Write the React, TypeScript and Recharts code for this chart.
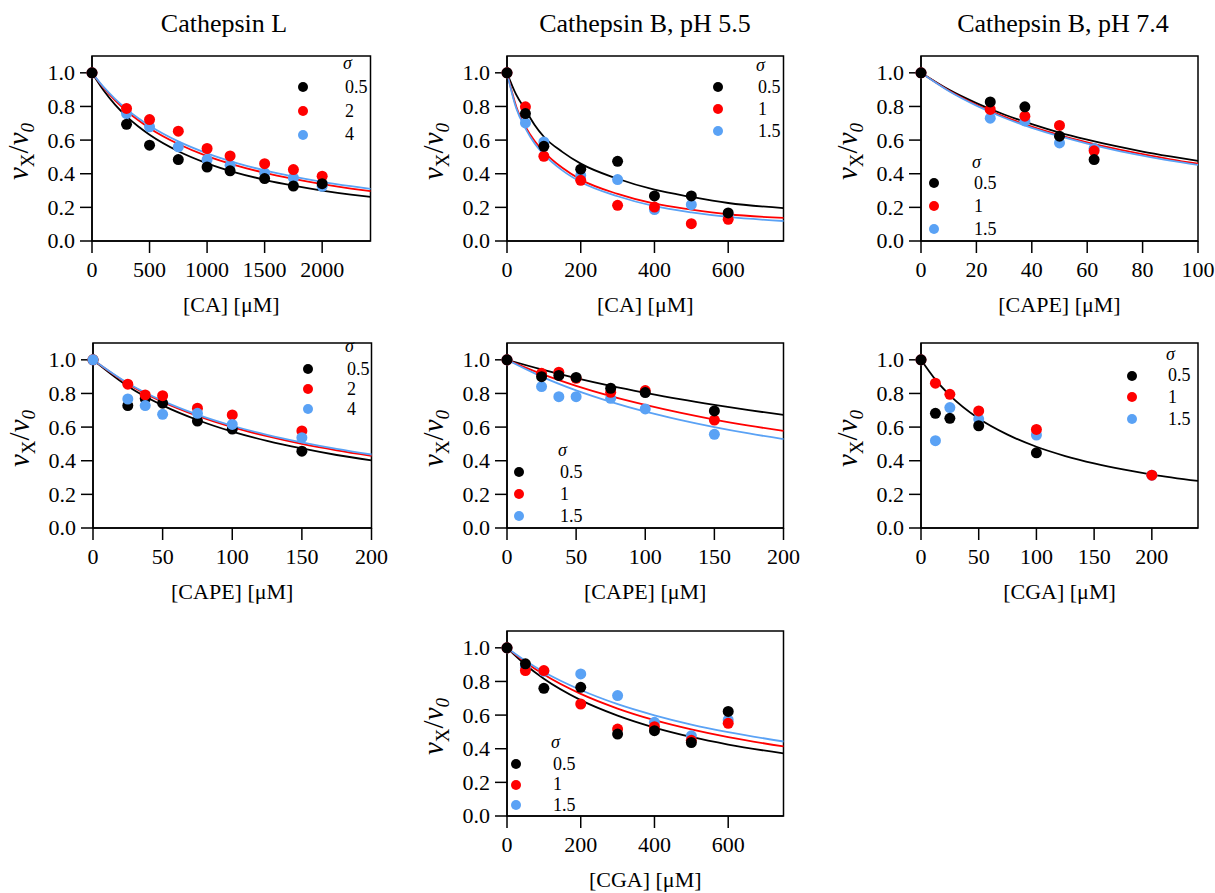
import React from 'react';
import { ComposedChart, Line, Scatter, XAxis, YAxis, ReferenceArea, Legend } from 'recharts';

const FONT = '"Liberation Serif", "Times New Roman", serif';
const COLORS = ['#000000', '#ff0000', '#5aa2f5'];

// y axis is the same on every panel
const yTicks = [0, 0.2, 0.4, 0.6, 0.8, 1.0];

// Cathepsin L, CA
const catL_CA_x = [0, 300, 500, 750, 1000, 1200, 1500, 1750, 2000];
const catL_CA_black = [1.0, 0.694, 0.57, 0.484, 0.44, 0.417, 0.371, 0.327, 0.341];
const catL_CA_red = [1.0, 0.788, 0.722, 0.653, 0.55, 0.506, 0.46, 0.425, 0.385];
const catL_CA_blue = [1.0, 0.758, 0.679, 0.56, 0.484, 0.45, 0.405, 0.375, 0.325];
const catL_CA_fitX = [0, 100, 200, 300, 400, 500, 750, 1000, 1250, 1500, 1750, 2000, 2250, 2420];
const catL_CA_fitBlack = [1, 0.896, 0.811, 0.741, 0.682, 0.632, 0.534, 0.462, 0.407, 0.364, 0.329, 0.3, 0.276, 0.262];
const catL_CA_fitRed = [1, 0.911, 0.836, 0.773, 0.719, 0.671, 0.577, 0.505, 0.45, 0.405, 0.369, 0.338, 0.312, 0.297];
const catL_CA_fitBlue = [1, 0.916, 0.845, 0.784, 0.731, 0.685, 0.592, 0.521, 0.465, 0.42, 0.383, 0.352, 0.326, 0.31];

// Cathepsin B pH 5.5, CA
const catB55_CA_x = [0, 50, 100, 200, 300, 400, 500, 600];
const catB55_CA_black = [1, 0.758, 0.563, 0.427, 0.474, 0.268, 0.268, 0.167];
const catB55_CA_red = [1, 0.798, 0.504, 0.361, 0.212, 0.202, 0.103, 0.129];
const catB55_CA_blue = [1, 0.702, 0.589, 0.39, 0.365, 0.187, 0.216, 0.15];
const catB55_CA_fitX = [0, 25, 50, 75, 100, 150, 200, 300, 400, 500, 600, 750];
const catB55_CA_fitBlack = [1, 0.87, 0.78, 0.69, 0.62, 0.53, 0.46, 0.37, 0.305, 0.262, 0.226, 0.196];
const catB55_CA_fitRed = [1, 0.8, 0.68, 0.595, 0.53, 0.435, 0.365, 0.28, 0.222, 0.187, 0.159, 0.137];
const catB55_CA_fitBlue = [1, 0.79, 0.67, 0.58, 0.515, 0.42, 0.351, 0.266, 0.207, 0.17, 0.143, 0.119];

// Cathepsin B pH 7.4, CAPE
const catB74_CAPE_x = [0, 25, 37.5, 50, 62.5];
const catB74_CAPE_black = [1, 0.827, 0.798, 0.623, 0.484];
const catB74_CAPE_red = [1, 0.782, 0.742, 0.687, 0.536];
const catB74_CAPE_blue = [1, 0.73, 0.714, 0.583, 0.55];
const catB74_CAPE_fitX = [0, 10, 20, 30, 40, 50, 60, 70, 80, 90, 100];
const catB74_CAPE_fitBlack = [1, 0.9, 0.82, 0.752, 0.695, 0.645, 0.603, 0.565, 0.532, 0.503, 0.476];
const catB74_CAPE_fitRed = [1, 0.895, 0.81, 0.74, 0.68, 0.63, 0.587, 0.549, 0.516, 0.486, 0.46];
const catB74_CAPE_fitBlue = [1, 0.892, 0.805, 0.733, 0.673, 0.623, 0.579, 0.541, 0.508, 0.478, 0.452];

// Cathepsin L, CAPE
const catL_CAPE_x = [0, 25, 37.5, 50, 75, 100, 150];
const catL_CAPE_black = [1, 0.728, 0.77, 0.742, 0.636, 0.588, 0.457];
const catL_CAPE_red = [1, 0.855, 0.791, 0.787, 0.712, 0.672, 0.577];
const catL_CAPE_blue = [1, 0.767, 0.728, 0.676, 0.682, 0.616, 0.537];
const catL_CAPE_fitX = [0, 25, 50, 75, 100, 125, 150, 175, 200];
const catL_CAPE_fitBlack = [1, 0.843, 0.729, 0.642, 0.573, 0.518, 0.473, 0.434, 0.402];
const catL_CAPE_fitRed = [1, 0.857, 0.75, 0.667, 0.6, 0.546, 0.5, 0.462, 0.429];
const catL_CAPE_fitBlue = [1, 0.861, 0.756, 0.674, 0.608, 0.554, 0.509, 0.47, 0.437];

// Cathepsin B pH 5.5, CAPE
const catB55_CAPE_x = [0, 25, 37.5, 50, 75, 100, 150];
const catB55_CAPE_black = [1, 0.9, 0.907, 0.895, 0.831, 0.805, 0.696];
const catB55_CAPE_red = [1, 0.92, 0.926, 0.89, 0.807, 0.817, 0.642];
const catB55_CAPE_blue = [1, 0.841, 0.781, 0.781, 0.771, 0.708, 0.557];
const catB55_CAPE_fitX = [0, 25, 50, 75, 100, 125, 150, 175, 200];
const catB55_CAPE_fitBlack = [1, 0.943, 0.891, 0.845, 0.804, 0.766, 0.732, 0.701, 0.672];
const catB55_CAPE_fitRed = [1, 0.916, 0.845, 0.784, 0.732, 0.686, 0.645, 0.609, 0.577];
const catB55_CAPE_fitBlue = [1, 0.9, 0.818, 0.75, 0.692, 0.643, 0.6, 0.562, 0.529];

// Cathepsin B pH 7.4, CGA
const catB74_CGA_x = [0, 12.5, 25, 50, 100, 200];
const catB74_CGA_black = [1, 0.682, 0.652, 0.608, 0.447, null];
const catB74_CGA_red = [1, 0.861, 0.795, 0.696, 0.586, 0.314];
const catB74_CGA_blue = [1, 0.519, 0.716, 0.648, 0.553, 0.314];
const catB74_CGA_fitX = [0, 12.5, 25, 50, 75, 100, 125, 150, 175, 200, 240];
const catB74_CGA_fitBlack = [1, 0.882, 0.789, 0.651, 0.555, 0.483, 0.428, 0.384, 0.348, 0.318, 0.28];

// Cathepsin L, CGA
const catL_CGA_x = [0, 50, 100, 200, 300, 400, 500, 600];
const catL_CGA_black = [1, 0.905, 0.759, 0.765, 0.487, 0.507, 0.437, 0.622];
const catL_CGA_red = [1, 0.865, 0.865, 0.666, 0.517, 0.531, 0.45, 0.551];
const catL_CGA_blue = [1, 0.885, 0.86, 0.845, 0.716, 0.557, 0.477, 0.571];
const catL_CGA_fitX = [0, 50, 100, 200, 300, 400, 500, 600, 750];
const catL_CGA_fitBlack = [1, 0.899, 0.816, 0.689, 0.597, 0.526, 0.47, 0.425, 0.372];
const catL_CGA_fitRed = [1, 0.914, 0.841, 0.726, 0.639, 0.57, 0.515, 0.469, 0.414];
const catL_CGA_fitBlue = [1, 0.923, 0.856, 0.749, 0.665, 0.599, 0.544, 0.499, 0.443];

const sigmaA = ['0.5', '2', '4'];
const sigmaB = ['0.5', '1', '1.5'];

const YW = 90;
const MT = 10;
const MR = 24;
const XH = 85;
const PH = 185;

const panels = [
  {
    left: 91.5, top: 55.5, width: 278.5, xMax: 2420, xTicks: [0, 500, 1000, 1500, 2000],
    xLabel: '[CA] [μM]', title: 'Cathepsin L', titleX: 224,
    xs: catL_CA_x, pts: [catL_CA_black, catL_CA_red, catL_CA_blue], order: [2, 1, 0],
    fitX: catL_CA_fitX, fits: [catL_CA_fitBlack, catL_CA_fitRed, catL_CA_fitBlue],
    labels: sigmaA, lg: { x: 211.5, y: 10.5, first: 21.3, gap: 23.8, lx: 42 },
  },
  {
    left: 506.7, top: 55.5, width: 276.5, xMax: 750, xTicks: [0, 200, 400, 600],
    xLabel: '[CA] [μM]', title: 'Cathepsin B, pH 5.5', titleX: 645,
    xs: catB55_CA_x, pts: [catB55_CA_black, catB55_CA_red, catB55_CA_blue], order: [2, 1, 0],
    fitX: catB55_CA_fitX, fits: [catB55_CA_fitBlack, catB55_CA_fitRed, catB55_CA_fitBlue],
    labels: sigmaB, lg: { x: 211.3, y: 12.5, first: 19.3, gap: 21.9, lx: 40 },
  },
  {
    left: 921, top: 55.5, width: 277, xMax: 100, xTicks: [0, 20, 40, 60, 80, 100],
    xLabel: '[CAPE] [μM]', title: 'Cathepsin B, pH 7.4', titleX: 1063,
    xs: catB74_CAPE_x, pts: [catB74_CAPE_black, catB74_CAPE_red, catB74_CAPE_blue], order: [2, 1, 0],
    fitX: catB74_CAPE_fitX, fits: [catB74_CAPE_fitBlack, catB74_CAPE_fitRed, catB74_CAPE_fitBlue],
    labels: sigmaB, lg: { x: 13, y: 109.5, first: 18.3, gap: 23, lx: 40 },
  },
  {
    left: 93.3, top: 342.5, width: 278.5, xMax: 200, xTicks: [0, 50, 100, 150, 200],
    xLabel: '[CAPE] [μM]',
    xs: catL_CAPE_x, pts: [catL_CAPE_black, catL_CAPE_red, catL_CAPE_blue], order: [0, 1, 2],
    fitX: catL_CAPE_fitX, fits: [catL_CAPE_fitBlack, catL_CAPE_fitRed, catL_CAPE_fitBlue],
    labels: sigmaA, lg: { x: 214.7, y: 6.5, first: 20, gap: 20, lx: 39 },
  },
  {
    left: 506.7, top: 342.5, width: 276.5, xMax: 200, xTicks: [0, 50, 100, 150, 200],
    xLabel: '[CAPE] [μM]',
    xs: catB55_CAPE_x, pts: [catB55_CAPE_black, catB55_CAPE_red, catB55_CAPE_blue], order: [2, 1, 0],
    fitX: catB55_CAPE_fitX, fits: [catB55_CAPE_fitBlack, catB55_CAPE_fitRed, catB55_CAPE_fitBlue],
    labels: sigmaB, lg: { x: 12.3, y: 110.5, first: 19, gap: 22, lx: 41 },
  },
  {
    left: 921, top: 342.5, width: 277, xMax: 240, xTicks: [0, 50, 100, 150, 200],
    xLabel: '[CGA] [μM]',
    xs: catB74_CGA_x, pts: [catB74_CGA_black, catB74_CGA_red, catB74_CGA_blue], order: [2, 1, 0],
    fitX: catB74_CGA_fitX, fits: [catB74_CGA_fitBlack],
    labels: sigmaB, lg: { x: 211, y: 14.5, first: 18.7, gap: 21.7, lx: 36 },
  },
  {
    left: 506.7, top: 630.5, width: 276.5, xMax: 750, xTicks: [0, 200, 400, 600],
    xLabel: '[CGA] [μM]',
    xs: catL_CGA_x, pts: [catL_CGA_black, catL_CGA_red, catL_CGA_blue], order: [2, 1, 0],
    fitX: catL_CGA_fitX, fits: [catL_CGA_fitBlack, catL_CGA_fitRed, catL_CGA_fitBlue],
    labels: sigmaB, lg: { x: 9.3, y: 114.5, first: 19, gap: 20.5, lx: 37 },
  },
];

const serif = { fontFamily: FONT };

const XTick = ({ x, y, payload }: any) => (
  <text x={x} y={y} dy="0.71em" textAnchor="middle" fontSize={22} fontFamily={FONT} style={serif} fill="#000">
    {payload.value}
  </text>
);

const YTick = ({ x, y, payload }: any) => (
  <text x={x} y={y} dy="0.34em" textAnchor="end" fontSize={22} fontFamily={FONT} style={serif} fill="#000">
    {Number(payload.value).toFixed(1)}
  </text>
);

const XLabel = ({ viewBox, text }: any) => {
  const { x, y, width } = viewBox;
  return (
    <text x={x + width / 2} y={y + 71} textAnchor="middle" fontSize={22} fontFamily={FONT} style={serif} fill="#000">
      {text}
    </text>
  );
};

const YLabel = ({ viewBox }: any) => {
  const { x, y, height } = viewBox;
  const bx = x + YW - 64;
  const cy = y + height / 2 + 3;
  return (
    <text x={bx} y={cy} transform={`rotate(-90 ${bx} ${cy})`} textAnchor="middle" fontSize={29} fontFamily={FONT} style={serif} fill="#000">
      <tspan fontStyle="italic">v</tspan>
      <tspan fontSize={19} dy={6}>X</tspan>
      <tspan dy={-6}>/</tspan>
      <tspan fontStyle="italic">v</tspan>
      <tspan fontSize={19} fontStyle="italic" dy={6}>0</tspan>
    </text>
  );
};

const SigmaLegend = ({ lg, labels }: any) => (
  <div style={{ position: 'relative', width: 0, height: 0, fontFamily: FONT, fontSize: 18, color: '#000' }}>
    <div style={{ position: 'absolute', left: lg.x + lg.lx - 2, top: lg.y - 11, lineHeight: '17px', fontStyle: 'italic', whiteSpace: 'nowrap' }}>
      σ
    </div>
    {labels.map((t: string, i: number) => {
      const cy = lg.y + lg.first + i * lg.gap;
      return (
        <React.Fragment key={t}>
          <div style={{ position: 'absolute', left: lg.x - 5, top: cy - 5, width: 10, height: 10, borderRadius: '50%', background: COLORS[i] }} />
          <div style={{ position: 'absolute', left: lg.x + lg.lx, top: cy - 8.5, lineHeight: '17px', whiteSpace: 'nowrap' }}>{t}</div>
        </React.Fragment>
      );
    })}
  </div>
);

const Panel = ({ p }: any) => {
  const points = (ys: (number | null)[]) =>
    p.xs.map((x: number, i: number) => ({ x, y: ys[i] })).filter((d: any) => d.y != null);
  const fit = (ys: number[]) => p.fitX.map((x: number, i: number) => ({ x, y: ys[i] }));

  return (
    <div style={{ position: 'absolute', left: p.left - YW, top: p.top - MT }}>
      <ComposedChart
        width={p.width + YW + MR}
        height={PH + MT + XH}
        margin={{ top: MT, right: MR, bottom: 0, left: 0 }}
        style={{ fontFamily: FONT }}
      >
        <XAxis
          type="number"
          dataKey="x"
          domain={[0, p.xMax]}
          ticks={p.xTicks}
          interval={0}
          height={XH}
          stroke="#000"
          strokeWidth={1.5}
          tickSize={12}
          tickMargin={8}
          tick={<XTick />}
          label={<XLabel text={p.xLabel} />}
        />
        <YAxis
          type="number"
          dataKey="y"
          domain={[0, 1.1]}
          ticks={yTicks}
          interval={0}
          width={YW}
          stroke="#000"
          strokeWidth={1.5}
          tickSize={12}
          tickMargin={5}
          tick={<YTick />}
          label={<YLabel />}
        />
        <ReferenceArea x1={0} x2={p.xMax} y1={0} y2={1.1} fill="none" stroke="#000" strokeWidth={1.5} ifOverflow="visible" />
        {p.fits.map((ys: number[], i: number) => (
          <Line
            key={'fit' + i}
            data={fit(ys)}
            dataKey="y"
            type="monotone"
            stroke={COLORS[i]}
            strokeWidth={1.8}
            dot={false}
            activeDot={false}
            isAnimationActive={false}
          />
        ))}
        {p.order.map((i: number) => (
          <Scatter
            key={'pts' + i}
            data={points(p.pts[i])}
            dataKey="y"
            fill={COLORS[i]}
            isAnimationActive={false}
            shape={(s: any) => <circle cx={s.cx} cy={s.cy} r={5.5} fill={COLORS[i]} />}
          />
        ))}
        <Legend
          verticalAlign="middle"
          align="center"
          layout="horizontal"
          wrapperStyle={{ left: YW, top: MT, width: 0, height: 0 }}
          content={() => <SigmaLegend lg={p.lg} labels={p.labels} />}
        />
      </ComposedChart>
    </div>
  );
};

export default function App() {
  return (
    <div style={{ position: 'absolute', left: 0, top: 0, width: 1215, height: 893, background: '#fff', fontFamily: FONT }}>
      {panels.map((p, k) =>
        p.title ? (
          <div
            key={'t' + k}
            style={{ position: 'absolute', left: p.titleX - 150, width: 300, top: 11, textAlign: 'center', fontSize: 26, lineHeight: '26px', color: '#000', whiteSpace: 'nowrap' }}
          >
            {p.title}
          </div>
        ) : null
      )}
      {panels.map((p, k) => (
        <Panel key={k} p={p} />
      ))}
    </div>
  );
}
